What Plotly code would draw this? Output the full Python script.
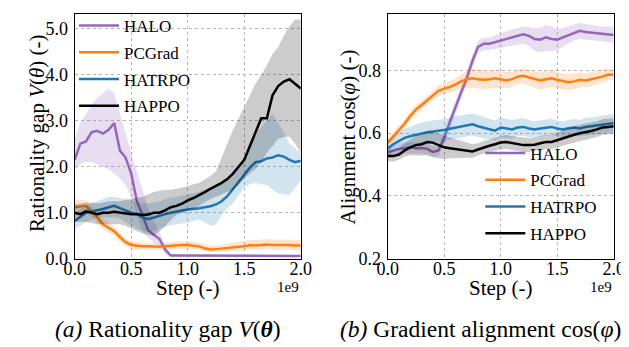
import plotly.graph_objects as go

# ---------------- data (x in units of 1e9 steps) ----------------
STEP_E9 = [0.00, 0.05, 0.10, 0.15, 0.20, 0.25, 0.30, 0.35, 0.40, 0.45,
           0.50, 0.55, 0.60, 0.65, 0.70, 0.75, 0.80, 0.85, 0.90, 0.95,
           1.00, 1.05, 1.10, 1.15, 1.20, 1.25, 1.30, 1.35, 1.40, 1.45,
           1.50, 1.55, 1.60, 1.65, 1.70, 1.75, 1.80, 1.85, 1.90, 1.95, 2.00]

SERIES = ["HALO", "PCGrad", "HATRPO", "HAPPO"]

# (a) Rationality gap V(theta)
HALO_V = [2.15, 2.50, 2.55, 2.75, 2.78, 2.72, 2.80, 2.95, 2.35, 2.20,
          1.85, 1.25, 0.95, 0.62, 0.52, 0.43, 0.20, 0.07, 0.07, 0.07,
          0.07, 0.07, 0.07, 0.07, 0.07, 0.07, 0.07, 0.07, 0.07, 0.07,
          0.07, 0.07, 0.07, 0.07, 0.07, 0.06, 0.06, 0.06, 0.06, 0.06, 0.06]
HALO_V_LO = [1.95, 2.05, 2.10, 2.10, 2.05, 2.00, 1.95, 1.85, 1.75, 1.60,
             1.35, 0.95, 0.60, 0.45, 0.35, 0.30, 0.10, 0.05, 0.05, 0.05,
             0.05, 0.05, 0.05, 0.05, 0.05, 0.05, 0.05, 0.05, 0.05, 0.05,
             0.05, 0.05, 0.05, 0.05, 0.05, 0.045, 0.045, 0.045, 0.045, 0.045, 0.045]
HALO_V_HI = [2.60, 2.95, 3.15, 3.35, 3.50, 3.60, 3.70, 3.60, 3.15, 2.75,
             2.30, 1.90, 1.50, 1.10, 0.80, 0.60, 0.30, 0.09, 0.09, 0.09,
             0.09, 0.09, 0.09, 0.09, 0.09, 0.09, 0.09, 0.09, 0.09, 0.09,
             0.09, 0.09, 0.09, 0.09, 0.09, 0.08, 0.08, 0.08, 0.08, 0.08, 0.08]

PCGRAD_V = [1.12, 1.13, 1.15, 1.02, 0.90, 0.75, 0.68, 0.60, 0.47, 0.36,
            0.30, 0.28, 0.27, 0.27, 0.26, 0.26, 0.27, 0.28, 0.30, 0.30,
            0.30, 0.28, 0.27, 0.23, 0.20, 0.21, 0.22, 0.24, 0.25, 0.26,
            0.27, 0.30, 0.29, 0.30, 0.31, 0.30, 0.30, 0.31, 0.30, 0.29, 0.29]
PCGRAD_V_LO = [0.98, 1.00, 1.02, 0.90, 0.78, 0.64, 0.57, 0.50, 0.38, 0.28,
               0.22, 0.20, 0.19, 0.19, 0.19, 0.19, 0.20, 0.21, 0.22, 0.22,
               0.22, 0.21, 0.20, 0.17, 0.15, 0.15, 0.16, 0.17, 0.17, 0.18,
               0.18, 0.20, 0.19, 0.20, 0.20, 0.19, 0.19, 0.20, 0.19, 0.18, 0.18]
PCGRAD_V_HI = [1.30, 1.28, 1.27, 1.14, 1.02, 0.87, 0.79, 0.70, 0.56, 0.44,
               0.38, 0.36, 0.35, 0.35, 0.34, 0.34, 0.35, 0.36, 0.38, 0.38,
               0.38, 0.36, 0.35, 0.31, 0.28, 0.29, 0.30, 0.33, 0.35, 0.37,
               0.38, 0.41, 0.41, 0.42, 0.43, 0.42, 0.42, 0.43, 0.42, 0.41, 0.41]

HATRPO_V = [0.82, 0.92, 1.00, 1.03, 1.05, 1.08, 1.12, 1.15, 1.10, 1.05,
            1.00, 0.97, 0.90, 0.86, 0.90, 0.93, 0.97, 1.00, 1.03, 1.05,
            1.07, 1.08, 1.10, 1.12, 1.14, 1.18, 1.25, 1.36, 1.52, 1.68,
            1.82, 1.98, 2.10, 2.12, 2.18, 2.20, 2.25, 2.22, 2.15, 2.10, 2.13]
HATRPO_V_LO = [0.65, 0.72, 0.80, 0.85, 0.90, 0.90, 0.90, 0.90, 0.87, 0.80,
               0.72, 0.65, 0.60, 0.58, 0.60, 0.65, 0.70, 0.72, 0.75, 0.77,
               0.78, 0.82, 0.85, 0.80, 0.72, 0.75, 0.95, 1.10, 1.20, 1.38,
               1.55, 1.62, 1.65, 1.62, 1.60, 1.50, 1.42, 1.40, 1.38, 1.55, 1.70]
HATRPO_V_HI = [1.00, 1.08, 1.15, 1.20, 1.25, 1.30, 1.35, 1.35, 1.32, 1.30,
               1.25, 1.22, 1.20, 1.20, 1.22, 1.25, 1.30, 1.32, 1.35, 1.37,
               1.40, 1.42, 1.45, 1.50, 1.55, 1.60, 1.65, 1.75, 1.90, 2.05,
               2.20, 2.45, 2.70, 2.85, 3.00, 3.15, 2.95, 2.75, 2.50, 2.40, 2.30]

HAPPO_V = [1.00, 0.97, 1.03, 1.00, 0.97, 1.00, 1.00, 1.02, 1.00, 0.98,
           0.97, 0.97, 0.95, 0.96, 1.00, 1.00, 1.05, 1.12, 1.15, 1.20,
           1.27, 1.32, 1.38, 1.45, 1.52, 1.58, 1.65, 1.73, 1.85, 2.00,
           2.15, 2.45, 2.75, 3.05, 3.05, 3.55, 3.75, 3.85, 3.90, 3.80, 3.70]
HAPPO_V_LO = [0.80, 0.80, 0.80, 0.78, 0.75, 0.75, 0.75, 0.75, 0.75, 0.72,
              0.65, 0.60, 0.55, 0.52, 0.50, 0.60, 0.70, 0.85, 0.95, 1.00,
              1.05, 1.10, 1.15, 1.22, 1.30, 1.35, 1.40, 1.45, 1.50, 1.60,
              1.75, 1.85, 1.95, 2.10, 2.30, 2.45, 2.60, 2.65, 2.65, 2.50, 2.30]
HAPPO_V_HI = [1.18, 1.20, 1.22, 1.22, 1.20, 1.22, 1.25, 1.25, 1.25, 1.28,
              1.30, 1.32, 1.35, 1.40, 1.45, 1.48, 1.50, 1.50, 1.52, 1.55,
              1.58, 1.62, 1.65, 1.72, 1.80, 1.90, 2.20, 2.50, 2.80, 3.05,
              3.30, 3.55, 3.80, 4.00, 4.20, 4.45, 4.60, 4.85, 5.05, 5.20, 5.20]

# (b) Gradient alignment cos(phi)
HALO_C = [0.540, 0.545, 0.550, 0.552, 0.555, 0.552, 0.553, 0.550, 0.540, 0.545,
          0.585, 0.635, 0.685, 0.730, 0.775, 0.830, 0.875, 0.885, 0.885, 0.890,
          0.895, 0.900, 0.905, 0.910, 0.915, 0.910, 0.900, 0.898, 0.905, 0.900,
          0.898, 0.905, 0.912, 0.920, 0.926, 0.922, 0.920, 0.918, 0.915, 0.915, 0.913]
HALO_C_LO = [0.520, 0.525, 0.530, 0.535, 0.537, 0.535, 0.535, 0.532, 0.522, 0.527,
             0.565, 0.615, 0.665, 0.710, 0.755, 0.810, 0.855, 0.865, 0.865, 0.868,
             0.872, 0.875, 0.878, 0.882, 0.885, 0.878, 0.862, 0.858, 0.862, 0.860,
             0.865, 0.875, 0.885, 0.895, 0.900, 0.897, 0.895, 0.893, 0.890, 0.890, 0.888]
HALO_C_HI = [0.560, 0.565, 0.570, 0.570, 0.573, 0.570, 0.571, 0.568, 0.558, 0.563,
             0.605, 0.655, 0.705, 0.750, 0.795, 0.850, 0.895, 0.905, 0.905, 0.912,
             0.918, 0.925, 0.930, 0.935, 0.940, 0.938, 0.935, 0.935, 0.945, 0.940,
             0.932, 0.935, 0.940, 0.945, 0.952, 0.948, 0.945, 0.943, 0.940, 0.940, 0.938]

PCGRAD_C = [0.570, 0.590, 0.610, 0.630, 0.655, 0.675, 0.690, 0.705, 0.720, 0.735,
            0.742, 0.747, 0.755, 0.765, 0.772, 0.775, 0.772, 0.770, 0.772, 0.775,
            0.772, 0.768, 0.772, 0.780, 0.783, 0.778, 0.772, 0.768, 0.772, 0.775,
            0.770, 0.765, 0.762, 0.765, 0.770, 0.768, 0.772, 0.775, 0.780, 0.787, 0.786]
PCGRAD_C_LO = [0.555, 0.575, 0.595, 0.615, 0.640, 0.660, 0.675, 0.690, 0.705, 0.718,
               0.724, 0.728, 0.735, 0.742, 0.745, 0.745, 0.742, 0.740, 0.742, 0.745,
               0.745, 0.742, 0.748, 0.756, 0.758, 0.752, 0.745, 0.740, 0.744, 0.748,
               0.744, 0.738, 0.736, 0.740, 0.746, 0.746, 0.750, 0.754, 0.760, 0.768, 0.768]
PCGRAD_C_HI = [0.585, 0.605, 0.625, 0.645, 0.670, 0.690, 0.705, 0.720, 0.735, 0.752,
               0.760, 0.766, 0.775, 0.788, 0.798, 0.805, 0.802, 0.800, 0.800, 0.802,
               0.798, 0.794, 0.796, 0.804, 0.806, 0.802, 0.798, 0.794, 0.798, 0.800,
               0.796, 0.790, 0.788, 0.790, 0.794, 0.790, 0.794, 0.796, 0.800, 0.806, 0.804]

HATRPO_C = [0.550, 0.565, 0.575, 0.585, 0.590, 0.595, 0.600, 0.603, 0.605, 0.607,
            0.610, 0.614, 0.618, 0.620, 0.625, 0.628, 0.622, 0.618, 0.612, 0.608,
            0.618, 0.615, 0.612, 0.618, 0.620, 0.615, 0.612, 0.615, 0.618, 0.620,
            0.615, 0.612, 0.616, 0.618, 0.615, 0.620, 0.622, 0.625, 0.628, 0.630, 0.632]
HATRPO_C_LO = [0.525, 0.540, 0.548, 0.555, 0.560, 0.562, 0.565, 0.567, 0.570, 0.572,
               0.575, 0.578, 0.582, 0.585, 0.590, 0.593, 0.588, 0.585, 0.580, 0.577,
               0.587, 0.585, 0.583, 0.590, 0.592, 0.588, 0.586, 0.589, 0.592, 0.594,
               0.590, 0.587, 0.590, 0.592, 0.590, 0.594, 0.596, 0.598, 0.600, 0.602, 0.604]
HATRPO_C_HI = [0.575, 0.590, 0.602, 0.615, 0.620, 0.628, 0.635, 0.638, 0.640, 0.642,
               0.645, 0.650, 0.655, 0.656, 0.660, 0.663, 0.657, 0.652, 0.645, 0.640,
               0.650, 0.646, 0.642, 0.646, 0.648, 0.642, 0.638, 0.641, 0.644, 0.646,
               0.640, 0.637, 0.642, 0.645, 0.642, 0.648, 0.650, 0.653, 0.657, 0.660, 0.662]

HAPPO_C = [0.527, 0.527, 0.532, 0.545, 0.555, 0.562, 0.565, 0.572, 0.570, 0.562,
           0.555, 0.552, 0.550, 0.548, 0.545, 0.542, 0.548, 0.555, 0.560, 0.565,
           0.570, 0.572, 0.568, 0.565, 0.562, 0.562, 0.563, 0.568, 0.572, 0.572,
           0.578, 0.585, 0.590, 0.595, 0.600, 0.603, 0.607, 0.612, 0.618, 0.620, 0.622]
HAPPO_C_LO = [0.510, 0.510, 0.515, 0.525, 0.530, 0.530, 0.528, 0.530, 0.525, 0.520,
              0.518, 0.520, 0.522, 0.522, 0.522, 0.522, 0.528, 0.535, 0.540, 0.545,
              0.548, 0.550, 0.546, 0.543, 0.540, 0.540, 0.542, 0.546, 0.550, 0.550,
              0.555, 0.560, 0.565, 0.570, 0.575, 0.578, 0.582, 0.588, 0.594, 0.596, 0.598]
HAPPO_C_HI = [0.545, 0.545, 0.552, 0.568, 0.580, 0.590, 0.595, 0.605, 0.605, 0.600,
              0.592, 0.586, 0.580, 0.575, 0.570, 0.565, 0.568, 0.575, 0.580, 0.585,
              0.592, 0.595, 0.590, 0.588, 0.585, 0.585, 0.586, 0.590, 0.595, 0.595,
              0.602, 0.610, 0.616, 0.622, 0.627, 0.630, 0.634, 0.638, 0.644, 0.646, 0.648]

X_TICKS = [0.0, 0.5, 1.0, 1.5, 2.0]
X_TICK_TEXT = ["0.0", "0.5", "1.0", "1.5", "2.0"]
YV_TICKS = [0.0, 1.0, 2.0, 3.0, 4.0, 5.0]
YV_TICK_TEXT = ["0.0", "1.0", "2.0", "3.0", "4.0", "5.0"]
YC_TICKS = [0.2, 0.4, 0.6, 0.8]
YC_TICK_TEXT = ["0.2", "0.4", "0.6", "0.8"]

COLORS = {"HALO": "#9467bd", "PCGrad": "#ff7f0e", "HATRPO": "#1f77b4", "HAPPO": "#000000"}
BANDS = {"HALO": "rgba(148,103,189,0.22)", "PCGrad": "rgba(255,127,14,0.2)",
         "HATRPO": "rgba(31,119,180,0.2)", "HAPPO": "rgba(0,0,0,0.2)"}

PANEL_V = {"HALO": (HALO_V, HALO_V_LO, HALO_V_HI),
           "PCGrad": (PCGRAD_V, PCGRAD_V_LO, PCGRAD_V_HI),
           "HATRPO": (HATRPO_V, HATRPO_V_LO, HATRPO_V_HI),
           "HAPPO": (HAPPO_V, HAPPO_V_LO, HAPPO_V_HI)}
PANEL_C = {"HALO": (HALO_C, HALO_C_LO, HALO_C_HI),
           "PCGrad": (PCGRAD_C, PCGRAD_C_LO, PCGRAD_C_HI),
           "HATRPO": (HATRPO_C, HATRPO_C_LO, HATRPO_C_HI),
           "HAPPO": (HAPPO_C, HAPPO_C_LO, HAPPO_C_HI)}

W, H = 629, 347
SERIF = "Liberation Serif, Times New Roman, serif"

fig = go.Figure()

def add_panel(panel, xa, ya, legend_name, tag):
    for name in SERIES:
        mean, lo, hi = panel[name]
        fig.add_trace(go.Scatter(
            x=STEP_E9 + STEP_E9[::-1], y=hi + lo[::-1], xaxis=xa, yaxis=ya,
            fill="toself", fillcolor=BANDS[name], line=dict(width=0),
            mode="lines", hoverinfo="skip", showlegend=False,
            legendgroup=tag + name, legend=legend_name))
        fig.add_trace(go.Scatter(
            x=STEP_E9, y=mean, xaxis=xa, yaxis=ya, mode="lines", name=name,
            line=dict(color=COLORS[name], width=2.5), legend=legend_name,
            legendgroup=tag + name))

add_panel(PANEL_V, "x", "y", "legend", "a_")
add_panel(PANEL_C, "x2", "y2", "legend2", "b_")

def px_x(p):
    return p / W

def px_y(p):
    return 1 - p / H

axis_common = dict(showline=True, mirror=True, linecolor="black", linewidth=1.3,
                   showgrid=True, gridcolor="#b5b5b5", griddash="dot", gridwidth=1,
                   zeroline=False, ticks="", tickfont=dict(family=SERIF, size=18, color="black"))

ydom = [px_y(257.7), px_y(4)]
legend_common = dict(xanchor="left", yanchor="top", bgcolor="rgba(0,0,0,0)", borderwidth=0,
                     tracegroupgap=1.6, itemwidth=40, traceorder="grouped",
                     font=dict(family=SERIF, size=17, color="black"))
fig.update_layout(
    width=W, height=H, margin=dict(l=0, r=0, t=0, b=0),
    paper_bgcolor="white", plot_bgcolor="white",
    font=dict(family=SERIF, color="black"),
    xaxis=dict(domain=[px_x(57.7), px_x(292)], range=[0, 2.0], tickvals=X_TICKS,
               ticktext=X_TICK_TEXT, anchor="y", ticklabelstandoff=-7, **axis_common),
    yaxis=dict(domain=ydom, range=[0, 5.32], tickvals=YV_TICKS, ticktext=YV_TICK_TEXT,
               anchor="x", ticklabelstandoff=2, **axis_common),
    xaxis2=dict(domain=[px_x(382), px_x(616.3)], range=[0, 2.0], tickvals=X_TICKS,
                ticktext=X_TICK_TEXT, anchor="y2", ticklabelstandoff=-7, **axis_common),
    yaxis2=dict(domain=ydom, range=[0.2, 0.98], tickvals=YC_TICKS, ticktext=YC_TICK_TEXT,
                anchor="x2", ticklabelstandoff=2, **axis_common),
    legend=dict(x=px_x(57), y=px_y(-2), **legend_common),
    legend2=dict(x=px_x(478), y=px_y(130), **legend_common),
    showlegend=True,
)

ann = []
def text(x, y, s, size, angle=0, xanchor="center", yanchor="middle"):
    ann.append(dict(x=px_x(x), y=px_y(y), xref="paper", yref="paper", text=s,
                    showarrow=False, textangle=angle, xanchor=xanchor, yanchor=yanchor,
                    font=dict(family=SERIF, size=size, color="black")))

text(174.8, 288, "Step (-)", 21)
text(499, 288, "Step (-)", 21)
text(292, 287, "1e9", 15, xanchor="right")
text(616.3, 287, "1e9", 15, xanchor="right")
text(18, 127, "Rationality gap <i>V</i>(<i>θ</i>) (-)", 21, angle=-90)
text(341, 132, "Alignment cos(<i>φ</i>) (-)", 21, angle=-90)
text(154, 330, "<i>(a)</i> Rationality gap <i>V</i>(<b><i>θ</i></b>)", 23.5)
text(478, 330, "<i>(b)</i> Gradient alignment cos(<i>φ</i>)", 23.5)
fig.update_layout(annotations=ann)

fig.write_html("out.html")
